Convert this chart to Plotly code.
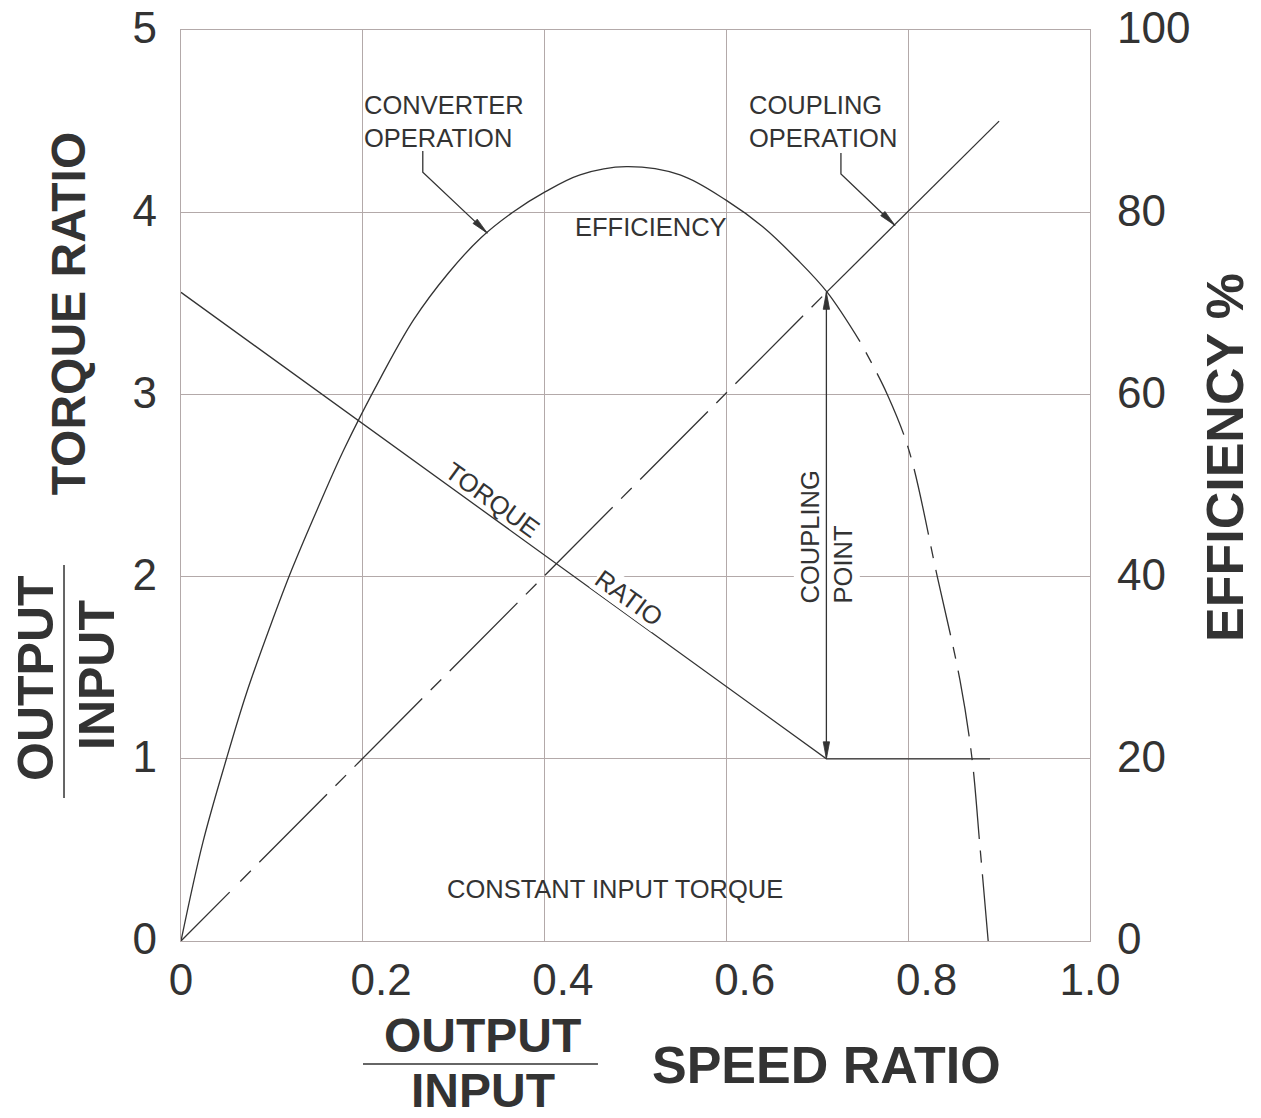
import plotly.graph_objects as go

# ---- axis ticks ----
NB = "\u00a0"
speed_ticks = [0, 0.2, 0.4, 0.6, 0.8, 1.0]
speed_labels = ["0", NB * 3 + "0.2", NB * 3 + "0.4", NB * 3 + "0.6", NB * 3 + "0.8", "1.0"]
torque_ticks = [0, 1, 2, 3, 4, 5]
eff_ticks = [0, 20, 40, 60, 80, 100]

# ---- torque ratio (output/input) vs speed ratio ----
torque_speed = [0.0, 0.71, 0.89]
torque_ratio = [3.56, 1.0, 1.0]

# ---- efficiency % : converter range (solid) and beyond (dashed) ----
eff_speed_solid = [0.0, 0.024, 0.05, 0.072, 0.098, 0.122, 0.15, 0.179, 0.22, 0.256,
                   0.294, 0.33, 0.365, 0.40, 0.439, 0.49, 0.549, 0.60, 0.64, 0.678,
                   0.711, 0.747]
eff_solid = [0.0, 10.8, 20.0, 27.2, 34.5, 40.8, 47.4, 53.9, 61.9, 68.2,
             73.3, 77.2, 80.0, 82.2, 84.1, 85.0, 84.1, 81.3, 78.4, 74.8,
             71.2, 65.8]
eff_speed_dash = [0.747, 0.777, 0.801, 0.832, 0.857, 0.870, 0.879, 0.888]
eff_dash = [65.8, 60.0, 53.8, 40.0, 28.6, 20.2, 10.3, 0.0]

# ---- coupling efficiency line (efficiency = speed ratio) ----
coupling_speed_dash = [0.0, 0.71]
coupling_eff_dash = [0.0, 71.2]
coupling_speed_solid = [0.71, 0.90]
coupling_eff_solid = [71.2, 90.0]

# coupling point (speed ratio, torque ratio span of the marker)
cp_speed = 0.71
cp_torque_low = 1.0
cp_torque_high = 3.56

INK = "#333333"
GRID = "#b3a9a9"
FONT = "Liberation Sans, Arial, sans-serif"
LW = 1.3

# centre-line style dashes: long, gap, short, gap
EFF_DASH = "0px,12px,12px,12px,67px,0px"
COUPLING_DASH = "69px,15px,15px,12px," + ",".join(["96px,12px,15px,12px"] * 8)

fig = go.Figure()

fig.add_trace(go.Scatter(x=torque_speed, y=torque_ratio, mode="lines",
                         line=dict(color=INK, width=LW), yaxis="y", hoverinfo="skip"))
fig.add_trace(go.Scatter(x=eff_speed_solid, y=eff_solid, mode="lines",
                         line=dict(color=INK, width=LW, shape="spline", smoothing=1),
                         yaxis="y2", hoverinfo="skip"))
fig.add_trace(go.Scatter(x=eff_speed_dash, y=eff_dash, mode="lines",
                         line=dict(color=INK, width=LW, shape="spline", smoothing=1,
                                   dash=EFF_DASH),
                         yaxis="y2", hoverinfo="skip"))
fig.add_trace(go.Scatter(x=coupling_speed_dash, y=coupling_eff_dash, mode="lines",
                         line=dict(color=INK, width=LW, dash=COUPLING_DASH),
                         yaxis="y2", hoverinfo="skip"))
fig.add_trace(go.Scatter(x=coupling_speed_solid, y=coupling_eff_solid, mode="lines",
                         line=dict(color=INK, width=LW), yaxis="y2", hoverinfo="skip"))

txt = dict(family=FONT, size=25.5, color=INK)


def title(x, y, text, angle=0, size=48):
    return dict(x=x, y=y, xref="paper", yref="paper", text="<b>%s</b>" % text,
                textangle=angle, showarrow=False, xanchor="center", yanchor="middle",
                font=dict(family=FONT, size=size, color=INK))


annotations = [
    dict(x=0.199, y=4.50, xref="x", yref="y", text="CONVERTER<br>OPERATION",
         showarrow=False, xanchor="left", yanchor="middle", align="left", font=txt),
    dict(x=0.623, y=4.50, xref="x", yref="y", text="COUPLING<br>OPERATION",
         showarrow=False, xanchor="left", yanchor="middle", align="left", font=txt),
    dict(x=0.517, y=3.92, xref="x", yref="y", text="EFFICIENCY",
         showarrow=False, font=txt),
    dict(x=0.4775, y=0.285, xref="x", yref="y", text="CONSTANT INPUT TORQUE",
         showarrow=False, font=txt),
    dict(x=0.343, y=2.42, xref="x", yref="y", text="TORQUE", textangle=35.9,
         showarrow=False, font=txt),
    dict(x=0.493, y=1.883, xref="x", yref="y", text="RATIO", textangle=35.9,
         showarrow=False, font=txt, bgcolor="white", borderpad=0),
    dict(x=cp_speed, y=2.217, xref="x", yref="y", text="COUPLING<br>POINT", textangle=-90,
         showarrow=False, font=txt, align="left", bgcolor="white", borderpad=2),
    # shaft of the coupling point marker (kept above the label background)
    dict(x=cp_speed, y=cp_torque_high, xref="x", yref="y", ax=cp_speed, ay=cp_torque_low,
         axref="x", ayref="y", text="", showarrow=True, arrowhead=0,
         arrowwidth=LW, arrowcolor=INK, standoff=0, startstandoff=0),
    # axis titles
    title(-0.1243, 0.689, "TORQUE RATIO", -90),
    title(-0.1595, 0.2887, "OUTPUT", -90, 50),
    title(-0.0924, 0.292, "INPUT", -90, 50),
    title(1.1485, 0.5313, "EFFICIENCY %", -90, 52),
    title(0.3322, -0.1032, "OUTPUT"),
    title(0.3322, -0.164, "INPUT"),
    title(0.7096, -0.1361, "SPEED RATIO", 0, 52),
]

# narrow filled arrowheads, drawn in pixels around their tips
HEAD_UP = "M0,0 L-3.2,-17 L3.2,-17 Z"
HEAD_DOWN = "M0,0 L-3.2,17 L3.2,17 Z"
HEAD_DIAG = "M0,0 L-14.3,9.7 L-10.1,14.0 Z"


def head(x, y, path):
    return dict(type="path", xref="x", yref="y", xsizemode="pixel", ysizemode="pixel",
                xanchor=x, yanchor=y, path=path, fillcolor=INK,
                line=dict(color=INK, width=0.8), layer="above")


shapes = [
    # leader lines to the curves
    dict(type="path", xref="x", yref="y", path="M0.266,4.336 L0.266,4.22 L0.337,3.885",
         line=dict(color=INK, width=LW)),
    dict(type="path", xref="x", yref="y", path="M0.726,4.325 L0.726,4.21 L0.7855,3.9275",
         line=dict(color=INK, width=LW)),
    head(0.337, 3.885, HEAD_DIAG),
    head(0.7855, 3.9275, HEAD_DIAG),
    head(cp_speed, cp_torque_high, HEAD_UP),
    head(cp_speed, cp_torque_low, HEAD_DOWN),
    # fraction bars of the axis titles
    dict(type="line", xref="paper", yref="paper", x0=-0.1287, x1=-0.1287, y0=0.157, y1=0.4127,
         line=dict(color=INK, width=1.5)),
    dict(type="line", xref="paper", yref="paper", x0=0.2002, x1=0.4587, y0=-0.135, y1=-0.135,
         line=dict(color=INK, width=1.5)),
]

axis_common = dict(showgrid=True, gridcolor=GRID, gridwidth=LW, zeroline=False,
                   showline=True, linecolor=GRID, linewidth=LW, mirror=True, ticks="",
                   ticklabeloverflow="allow", automargin=False,
                   tickfont=dict(family=FONT, size=44, color=INK))

fig.update_layout(
    width=1261, height=1118,
    margin=dict(l=181, r=171, t=30, b=177, autoexpand=False),
    paper_bgcolor="white", plot_bgcolor="white",
    showlegend=False,
    font=dict(family=FONT, color=INK),
    xaxis=dict(range=[0, 1], tickvals=speed_ticks, ticktext=speed_labels,
               ticklabelstandoff=0, **axis_common),
    yaxis=dict(range=[0, 5], tickvals=torque_ticks, ticklabelstandoff=14,
               ticklabelshift=-2, **axis_common),
    yaxis2=dict(range=[0, 100], tickvals=eff_ticks, overlaying="y", side="right",
                showgrid=False, zeroline=False, showline=False, ticks="",
                ticklabelstandoff=26, ticklabelshift=-2, ticklabeloverflow="allow",
                automargin=False,
                tickfont=dict(family=FONT, size=44, color=INK)),
    annotations=annotations,
    shapes=shapes,
)

fig.write_html("out.html")
